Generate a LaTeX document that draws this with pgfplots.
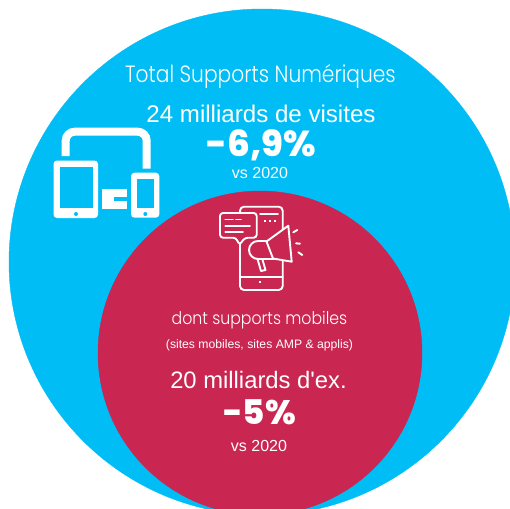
\documentclass[border=0pt]{standalone}
\usepackage{pgfplots}
\pgfplotsset{compat=1.18}
\usepackage{fontspec}
\setmainfont{Liberation Sans}
\newfontfamily\plainf{Liberation Sans}
\newfontfamily\pop{Poppins}[UprightFont=* Light, BoldFont=* ExtraBold]
\definecolor{cblue}{HTML}{00BDF6}
\definecolor{cred}{HTML}{C92651}
\tikzset{
    txt/.style={text=white, anchor=base, inner sep=0pt},
    ic/.style={draw=white, line width=1.9pt, line cap=round, line join=round},
}
\begin{document}
\begin{tikzpicture}[x=1pt,y=1pt]
\clip (0,0) rectangle (510,508);
\fill[white] (0,0) rectangle (510,508);
\begin{axis}[
    at={(0,0)}, anchor=south west,
    width=510pt, height=508pt, scale only axis,
    xmin=0, xmax=510, ymin=0, ymax=508,
    y dir=reverse,
    hide axis,
    clip=false,
    clip marker paths=true,
]
% the two circles
\addplot[only marks, color=cblue, mark=*, mark size=253pt, mark options={draw=cblue, fill=cblue}] coordinates {(262,262)};
\addplot[only marks, color=cred, mark=*, mark size=162pt, mark options={draw=cred, fill=cred}] coordinates {(260,353)};

\node[txt] at (axis cs:260.5,83) {\fontsize{23.5}{26}\selectfont\pop\scalebox{0.86}[1]{Total Supports Numériques}};
\node[txt] at (axis cs:261,122) {\fontsize{24.1}{26}\selectfont 24 milliards de visites};
\node[txt] at (axis cs:261,156) {\fontsize{36}{38}\selectfont\pop\bfseries -6,9\%};
\node[txt] at (axis cs:260,178) {\fontsize{16}{18}\selectfont vs 2020};
\node[txt] at (axis cs:259.5,324) {\fontsize{17.5}{20}\selectfont\pop\scalebox{0.9}[1]{dont supports mobiles}};
\node[txt] at (axis cs:259.5,348) {\fontsize{12.2}{14}\selectfont (sites mobiles, sites AMP \& applis)};
\node[txt] at (axis cs:258.5,388) {\fontsize{23.8}{26}\selectfont\plainf 20 milliards d'ex.};
\node[txt] at (axis cs:259.5,424) {\fontsize{34}{36}\selectfont\pop\bfseries -5\%};
\node[txt] at (axis cs:259,451) {\fontsize{16}{18}\selectfont vs 2020};

% devices icon
\draw[white, line width=8pt, rounded corners=9pt] (axis cs:65.7,156) -- (axis cs:65.7,131.7) -- (axis cs:146.7,131.7) -- (axis cs:146.7,168.7);
\fill[white, rounded corners=3.5pt] (axis cs:53.5,160.5) rectangle (axis cs:98,218);
\fill[cblue] (axis cs:60,166.7) rectangle (axis cs:92.7,207.7);
\fill[cblue] (axis cs:76,214) circle (2pt);
\fill[white, rounded corners=3.5pt] (axis cs:131,172.7) rectangle (axis cs:159.3,217.7);
\fill[cblue] (axis cs:136.7,179) rectangle (axis cs:154,207.7);
\fill[cblue] (axis cs:145.3,214) circle (2pt);
\fill[white] (axis cs:102.3,189.3) rectangle (axis cs:127.3,209.3);
\fill[cblue] (axis cs:114,196.7) rectangle (axis cs:127.3,201);

% mobile + megaphone icon
\draw[ic, rounded corners=4pt] (axis cs:240,206.7) rectangle (axis cs:282.7,290);
\draw[ic] (axis cs:240,276.7) -- (axis cs:282.7,276.7);
\fill[white] (axis cs:258.7,280.7) rectangle (axis cs:261.3,283.3);
\draw[ic] (axis cs:260,214) -- (axis cs:278,214);
\fill[white] (axis cs:263.8,219.8) rectangle (axis cs:266.2,222.2);
\fill[white] (axis cs:268.8,219.8) rectangle (axis cs:271.2,222.2);
\fill[white] (axis cs:273.8,219.8) rectangle (axis cs:276.2,222.2);
\draw[ic, fill=cred, rounded corners=3pt] (axis cs:220,213) -- (axis cs:256.7,213) -- (axis cs:256.7,237.7) -- (axis cs:245,237.7) -- (axis cs:239.3,245) -- (axis cs:236,237.7) -- (axis cs:220,237.7) -- cycle;
\draw[ic] (axis cs:225.3,219.5) -- (axis cs:233,219.5);
\draw[ic] (axis cs:236,219.5) -- (axis cs:241,219.5);
\draw[ic] (axis cs:225.3,226) -- (axis cs:250,226);
\draw[ic] (axis cs:225.3,232) -- (axis cs:243,232);
\draw[ic, fill=cred] (axis cs:262,258) -- (axis cs:265.5,270) -- (axis cs:261,271) -- (axis cs:257.5,259) -- cycle;
\draw[ic, fill=cred] (axis cs:258,241) arc[start angle=90, end angle=270, radius=9pt] -- (axis cs:274,259) -- (axis cs:268,241) -- cycle;
\draw[ic, fill=cred] (axis cs:266.5,241.5) -- (axis cs:288.3,225.7) -- (axis cs:291.7,261.7) -- (axis cs:273,258.5) -- cycle;
\draw[ic] (axis cs:293.3,232.3) -- (axis cs:297.3,230);
\draw[ic] (axis cs:296,243.3) -- (axis cs:300,243.7);
\draw[ic] (axis cs:298.3,252.3) -- (axis cs:302.3,255);
\end{axis}
\end{tikzpicture}
\end{document}
